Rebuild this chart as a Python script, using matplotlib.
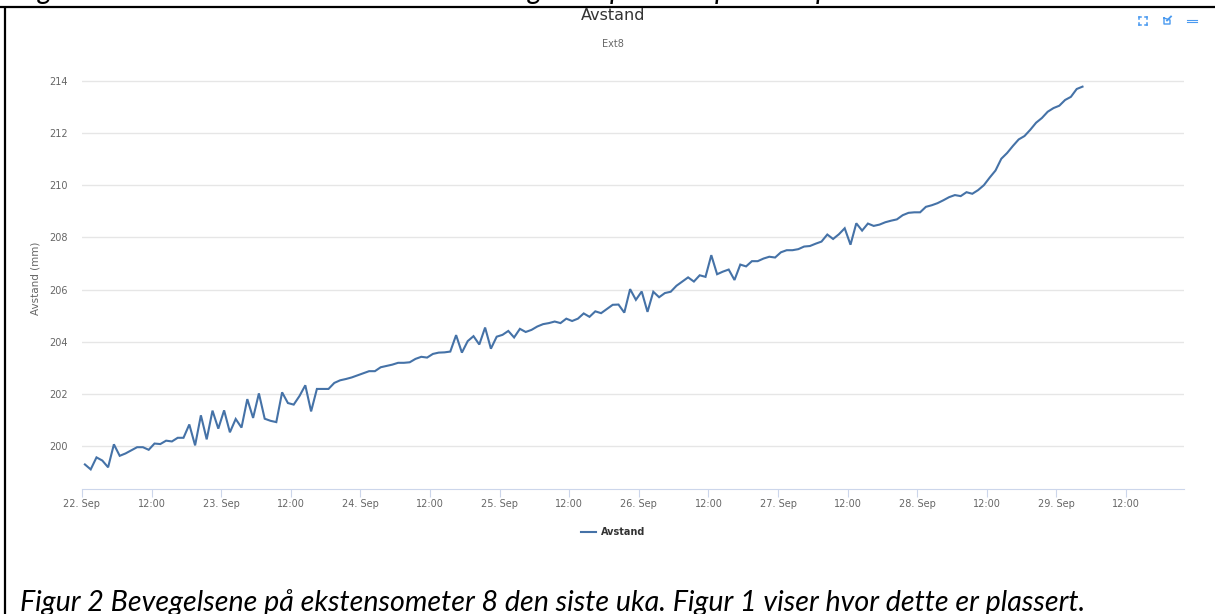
import matplotlib
matplotlib.use('Agg')
import matplotlib.pyplot as plt
import matplotlib.dates as mdates
import pandas as pd
from matplotlib.ticker import FuncFormatter

W, H = 1215, 614

# hourly readings
avstand_1 = [199.31, 199.12, 199.58, 199.46, 199.20, 200.08, 199.64, 199.73, 199.85, 199.97, 199.97, 199.87,
             200.11, 200.09, 200.22, 200.19, 200.33, 200.33, 200.84, 200.04, 201.19, 200.27, 201.37, 200.68,
             201.38, 200.54, 201.05, 200.72, 201.81, 201.09, 202.03, 201.06, 200.98, 200.93, 202.07, 201.66,
             201.60, 201.93, 202.34, 201.34, 202.20, 202.20, 202.20, 202.43, 202.53, 202.58, 202.64, 202.72]
avstand_2 = [202.80, 202.88, 202.88, 203.03, 203.08, 203.13, 203.20, 203.20, 203.22, 203.35, 203.43, 203.40,
             203.54, 203.59, 203.60, 203.63, 204.26, 203.59, 204.03, 204.22, 203.90, 204.55, 203.74, 204.20,
             204.27, 204.42, 204.17, 204.50, 204.38, 204.46, 204.59, 204.68, 204.72, 204.78, 204.72, 204.89,
             204.80, 204.89, 205.09, 204.96, 205.17, 205.10, 205.26, 205.42, 205.43, 205.12, 206.02, 205.61,
             205.93, 205.15]
avstand_3 = [205.92, 205.71, 205.87, 205.92, 206.15, 206.31, 206.47, 206.31, 206.55, 206.49, 207.32, 206.59,
             206.69, 206.77, 206.37, 206.96, 206.89, 207.09, 207.09, 207.19, 207.26, 207.23, 207.43, 207.51,
             207.51, 207.55, 207.65, 207.67, 207.76, 207.84, 208.11, 207.94, 208.12, 208.35, 207.72, 208.54,
             208.26, 208.53, 208.44, 208.49, 208.58, 208.64, 208.69, 208.85, 208.94, 208.96, 208.96, 209.17,
             209.23, 209.31]
avstand_4 = [209.42, 209.54, 209.62, 209.58, 209.73, 209.67, 209.81, 210.00, 210.29, 210.56, 211.01, 211.23,
             211.50, 211.75, 211.88, 212.12, 212.39, 212.57, 212.81, 212.95, 213.04, 213.26, 213.38, 213.68,
             213.77]
avstand = avstand_1 + avstand_2 + avstand_3 + avstand_4

y_ticks = [200, 202, 204, 206, 208, 210, 212, 214]
caption = 'Figur 2 Bevegelsene på ekstensometer 8 den siste uka. Figur 1 viser hvor dette er plassert.'

tider = pd.date_range('2014-09-22 00:30', periods=len(avstand), freq='h')

fig = plt.figure(figsize=(W / 100, H / 100), dpi=100, facecolor='white')

# chart area in pixels: x 82-1184, y 60-489
ax = fig.add_axes([82 / W, 1 - 489 / H, (1184 - 82) / W, (489 - 60) / H])
ax.plot(tider, avstand, color='#4572a7', linewidth=1.5, label='Avstand', solid_joinstyle='miter')
ax.set_xlim(pd.Timestamp('2014-09-22 00:00'), pd.Timestamp('2014-09-22 00:00') + pd.Timedelta(hours=190))
ax.set_ylim(198.37, 214.79)

ax.set_yticks(y_ticks)
ax.grid(axis='y', color='#e6e6e6', linewidth=1)
ax.set_axisbelow(True)
for side in ['top', 'left', 'right']:
    ax.spines[side].set_visible(False)
ax.spines['bottom'].set_color('#ccd6eb')
ax.tick_params(axis='y', length=0, pad=10, labelsize=7, labelcolor='#666666')
ax.tick_params(axis='x', length=5.8, width=0.8, color='#ccd6eb', pad=1.5, labelsize=7, labelcolor='#666666')


def tick_text(x, pos):
    d = mdates.num2date(x)
    if d.hour == 12:
        return '12:00'
    return f'{d.day}. {d:%b}'


ax.xaxis.set_major_locator(mdates.HourLocator(byhour=[0, 12]))
ax.xaxis.set_major_formatter(FuncFormatter(tick_text))

ax.legend(loc='center', bbox_to_anchor=((613.5 - 82) / 1102, (489 - 532) / 429), frameon=False,
          prop={'size': 7, 'weight': 'bold'}, labelcolor='#333333', handlelength=1.55, handletextpad=0.5)

# overlay in pixel coordinates for the page furniture
over = fig.add_axes([0, 0, 1, 1], facecolor='none')
over.set_xlim(0, W)
over.set_ylim(H, 0)
over.axis('off')

over.text(613, 16, 'Avstand', ha='center', va='center', fontsize=11.5, color='#333333')
over.text(613, 44, 'Ext8', ha='center', va='center', fontsize=7, color='#666666')
over.text(36, 278, 'Avstand (mm)', rotation=90, ha='center', va='center', fontsize=7.5, color='#666666')

over.text(20, 611.5, caption, ha='left', va='baseline', fontsize=20.6, style='italic', family='Lato', color='black')

# document table border
over.plot([0, W], [6.5, 6.5], color='black', linewidth=1.6, solid_capstyle='butt')
over.plot([5, 5], [6.5, H], color='black', linewidth=1.6, solid_capstyle='butt')

# caption above the table, only the descenders show
for letter, x in [('g', 45), ('g', 535), ('p', 617), ('p', 722), ('p', 823)]:
    over.text(x, -1.5, letter, ha='center', va='baseline', fontsize=20.6, style='italic', family='Lato',
              color='black', clip_on=True)

# menu icons
ikon = '#4a9af0'
for dx, dy in [(-1, -1), (1, -1), (-1, 1), (1, 1)]:
    over.plot([1142.5 + dx * 4, 1142.5 + dx * 2], [20.5 + dy * 4, 20.5 + dy * 4], color=ikon, linewidth=1.1)
    over.plot([1142.5 + dx * 4, 1142.5 + dx * 4], [20.5 + dy * 4, 20.5 + dy * 2], color=ikon, linewidth=1.1)
over.plot([1164, 1164, 1170, 1170, 1164], [18, 24, 24, 20, 18], color=ikon, linewidth=1.0)
over.plot([1167, 1171], [20.5, 16.5], color=ikon, linewidth=1.3)
over.plot([1187, 1197], [19.5, 19.5], color=ikon, linewidth=0.8)
over.plot([1187, 1197], [21.8, 21.8], color=ikon, linewidth=0.8)

fig.savefig('out.png', dpi=100)
